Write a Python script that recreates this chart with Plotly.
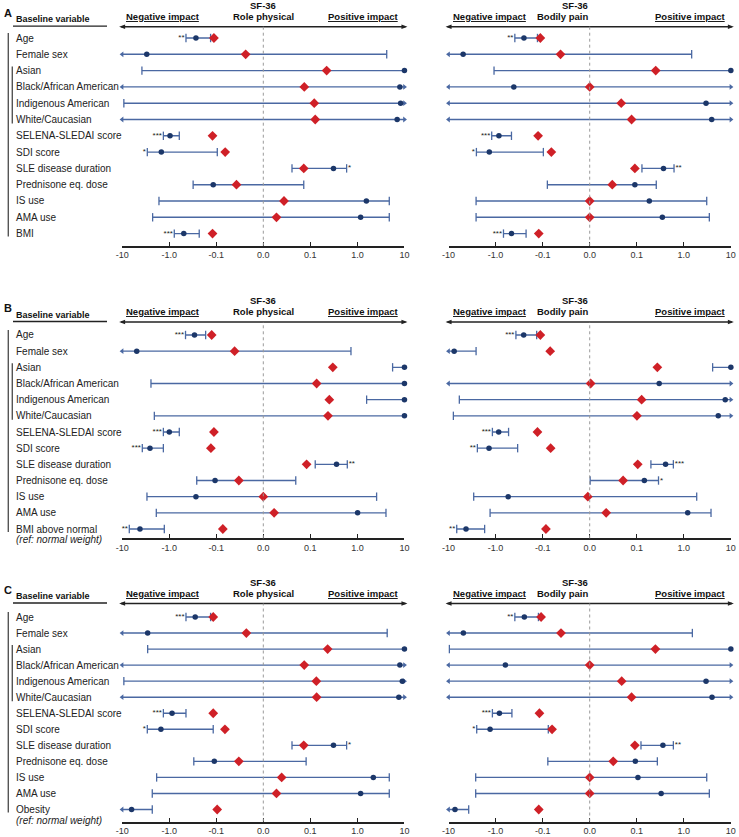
import math
import plotly.graph_objects as go

W, H = 739, 837

labels = ["Age", "Female sex", "Asian", "Black/African American", "Indigenous American",
          "White/Caucasian", "SELENA-SLEDAI score", "SDI score", "SLE disease duration",
          "Prednisone eq. dose", "IS use", "AMA use"]
last_label = ["BMI", "BMI above normal", "Obesity"]
ref_note = "(ref: normal weight)"
outcomes = ["Role physical", "Bodily pain"]
tick_vals = [-3, -2, -1, 0, 1, 2, 3]
tick_text = ["-10", "-1.0", "-0.1", "0.0", "0.1", "1.0", "10"]

# 99 / -99 = interval runs off the axis (drawn as an arrow)
a_rp_est = [-0.27, -3.0, 10, 8.0, 8.3, 7.0, -0.96, -1.47, 0.31, -0.116, 1.55, 1.17, -0.49]
a_rp_lo = [-0.44, -99, -3.8, -99, -9.2, -99, -1.33, -2.92, 0.061, -0.31, -1.65, -2.25, -0.78]
a_rp_hi = [-0.132, 4.2, 99, 99, 99, 99, -0.61, -0.0978, 0.59, 0.086, 4.76, 4.76, -0.23]
a_rp_ref = [-0.112, -0.0375, 0.222, 0.0871, 0.121, 0.127, -0.12, -0.081, 0.086, -0.057, 0.044, 0.028, -0.12]
a_rp_sig = ["**", "", "", "", "", "", "***", "*", "*", "", "", "", "***"]

a_bp_est = [-0.25, -4.9, 10, -0.41, 2.97, 3.92, -0.85, -1.36, 0.37, 0.096, 0.185, 0.35, -0.46]
a_bp_lo = [-0.39, -99, -1.08, -99, -99, -99, -1.21, -2.56, 0.129, -0.09, -2.6, -2.6, -0.68]
a_bp_hi = [-0.129, 1.47, 99, 99, 99, 99, -0.46, -0.0985, 0.62, 0.26, 3.07, 3.49, -0.225]
a_bp_ref = [-0.112, -0.062, 0.253, 0.0, 0.067, 0.089, -0.125, -0.0815, 0.096, 0.048, 0.0, 0.0, -0.121]
a_bp_sig = ["**", "", "", "", "", "", "***", "*", "**", "", "", "", "***"]

b_rp_est = [-0.29, -4.9, 10, 10, 10, 10, -0.995, -2.56, 0.36, -0.106, -0.27, 1.01, -4.18]
b_rp_lo = [-0.45, -99, 5.6, -2.44, 1.57, -2.07, -1.33, -3.73, 0.127, -0.26, -2.97, -1.88, -7.05]
b_rp_hi = [-0.168, 0.73, 99, 99, 99, 99, -0.61, -1.33, 0.61, 0.069, 2.56, 4.05, -1.27]
b_rp_ref = [-0.125, -0.061, 0.30, 0.136, 0.253, 0.237, -0.112, -0.13, 0.092, -0.052, 0.0, 0.023, -0.086]
b_rp_sig = ["***", "", "**", "", "*", "", "***", "***", "**", "", "", "", "**"]

b_bp_est = [-0.253, -7.6, 10, 0.30, 7.6, 5.4, -0.86, -1.38, 0.41, 0.145, -0.54, 1.21, -4.25]
b_bp_lo = [-0.37, -99, 4.1, -99, -5.9, -7.9, -1.17, -2.44, 0.20, 0.001, -2.92, -1.31, -6.7]
b_bp_hi = [-0.134, -2.6, 99, 99, 99, 99, -0.53, -0.34, 0.60, 0.29, 1.88, 3.79, -1.71]
b_bp_ref = [-0.112, -0.084, 0.274, 0.002, 0.127, 0.101, -0.129, -0.083, 0.105, 0.071, -0.004, 0.035, -0.093]
b_bp_sig = ["***", "**", "*", "", "", "", "***", "**", "***", "*", "", "", "**"]

c_rp_est = [-0.28, -2.87, 10, 8.0, 9.0, 7.6, -0.87, -1.5, 0.31, -0.11, 2.18, 1.17, -6.3]
c_rp_lo = [-0.44, -99, -2.87, -99, -9.2, -99, -1.33, -2.92, 0.061, -0.30, -1.85, -2.29, -99]
c_rp_hi = [-0.132, 4.3, 99, 99, 99, 99, -0.44, -0.116, 0.59, 0.091, 4.76, 4.76, -2.29]
c_rp_ref = [-0.116, -0.036, 0.233, 0.087, 0.134, 0.136, -0.116, -0.0815, 0.086, -0.052, 0.039, 0.028, -0.098]
c_rp_sig = ["***", "", "", "", "", "", "***", "*", "*", "", "", "", "***"]

c_bp_est = [-0.245, -4.84, 10, -0.62, 2.97, 3.98, -0.83, -1.31, 0.36, 0.097, 0.106, 0.33, -7.3]
c_bp_lo = [-0.39, -99, -9.6, -99, -99, -99, -1.17, -2.52, 0.123, -0.089, -2.65, -2.65, -99]
c_bp_hi = [-0.123, 1.52, 99, 99, 99, 99, -0.45, -0.088, 0.60, 0.274, 3.07, 3.49, -3.73]
c_bp_ref = [-0.108, -0.061, 0.249, 0.0, 0.068, 0.089, -0.117, -0.080, 0.096, 0.050, 0.0, 0.0, -0.121]
c_bp_sig = ["**", "", "", "", "", "", "***", "*", "**", "", "", "", "***"]

panels = [
    ("A", [(a_rp_est, a_rp_lo, a_rp_hi, a_rp_ref, a_rp_sig), (a_bp_est, a_bp_lo, a_bp_hi, a_bp_ref, a_bp_sig)]),
    ("B", [(b_rp_est, b_rp_lo, b_rp_hi, b_rp_ref, b_rp_sig), (b_bp_est, b_bp_lo, b_bp_hi, b_bp_ref, b_bp_sig)]),
    ("C", [(c_rp_est, c_rp_lo, c_rp_hi, c_rp_ref, c_rp_sig), (c_bp_est, c_bp_lo, c_bp_hi, c_bp_ref, c_bp_sig)]),
]

# pixel geometry of each panel: header line, first row, last row, x axis line
geom = [(26.7, 38, 233.6, 245.7), (322, 335, 529, 538.3), (603.5, 617, 809.5, 821.5)]
zero_px = [263.3, 589.7]
unit_px = 47.05

FONT = "Arial, 'Liberation Sans', sans-serif"
BLUE = "#1c3769"
BAR = "#4a68a2"
RED = "#cf2027"


def tr(v):
    # symmetric log scale: linear inside +-0.1, one decade per unit outside
    v = max(min(v, 10), -10)
    a = abs(v)
    if a <= 0.1:
        return v * 10
    return math.copysign(math.log10(a) + 2, v)


def px(x):
    return x / W


def py(y):
    return 1 - y / H


fig = go.Figure()
annotations = []
shapes = []
layout = {}

for p, (letter, subs) in enumerate(panels):
    header, r0, r12, axis_y = geom[p]
    sp = (r12 - r0) / 12

    # left label column
    annotations.append(dict(x=px(2), y=py(header - 14), text="<b>%s</b>" % letter,
                            font=dict(size=11, color="#111"), xanchor="left"))
    annotations.append(dict(x=px(14), y=py(header - 7.5), text="<b>Baseline variable</b>",
                            font=dict(size=9, color="#111"), xanchor="left"))
    shapes.append(dict(type="line", xref="paper", yref="paper", x0=px(13), x1=px(107),
                       y0=py(header - 0.5), y1=py(header - 0.5), line=dict(color="#222", width=1.3)))
    names = labels + [last_label[p]]
    for i, name in enumerate(names):
        annotations.append(dict(x=px(14), y=py(r0 + i * sp), text=name, xanchor="left",
                                font=dict(size=10, color="#222")))
    if p > 0:
        annotations.append(dict(x=px(14), y=py(r12 + 10.5), text="<i>%s</i>" % ref_note,
                                xanchor="left", font=dict(size=10, color="#222")))
    shapes.append(dict(type="line", xref="paper", yref="paper", x0=px(8.3), x1=px(8.3),
                       y0=py(r0 - 5), y1=py(r12 + 3), line=dict(color="#555", width=1.4)))
    shapes.append(dict(type="line", xref="paper", yref="paper", x0=px(12.3), x1=px(12.3),
                       y0=py(r0 + 2 * sp - 4), y1=py(r0 + 5 * sp + 4), line=dict(color="#555", width=1.4)))

    for c, (est, lo, hi, ref, sig) in enumerate(subs):
        k = p * 2 + c + 1
        xa = "x%d" % k if k > 1 else "x"
        ya = "y%d" % k if k > 1 else "y"
        zc = zero_px[c]
        L, R = zc - 3 * unit_px, zc + 3 * unit_px
        layout["xaxis%d" % k] = dict(
            domain=[px(L), px(R)], anchor=ya, range=[-3, 3], tickvals=tick_vals, ticktext=tick_text,
            showline=True, linecolor="#222", linewidth=1.8, ticks="inside", ticklen=4,
            tickwidth=1.3, tickcolor="#222", tickfont=dict(size=9, color="#333", family=FONT),
            showgrid=False, zeroline=False, fixedrange=True)
        layout["yaxis%d" % k] = dict(
            domain=[py(axis_y), py(header)], anchor=xa,
            range=[12 + (axis_y - r12) / sp, -(r0 - header) / sp], visible=False, fixedrange=True)

        # header
        annotations.append(dict(x=px(zc), y=py(header - 21.5), text="<b>SF-36</b>",
                                font=dict(size=9.5, color="#111")))
        annotations.append(dict(x=px(zc), y=py(header - 10.5), text="<b>%s</b>" % outcomes[c],
                                font=dict(size=9.5, color="#111")))
        annotations.append(dict(x=px(L + 2), y=py(header - 10.5), text="<b><u>Negative impact</u></b>",
                                xanchor="left", font=dict(size=9.5, color="#111")))
        annotations.append(dict(x=px(R - 3), y=py(header - 10.5), text="<b><u>Positive impact</u></b>",
                                xanchor="right", font=dict(size=9.5, color="#111")))
        shapes.append(dict(type="line", xref="paper", yref="paper", x0=px(L - 1), x1=px(R + 1),
                           y0=py(header), y1=py(header), line=dict(color="#222", width=1.6)))
        for xe, d in ((L - 3, 1), (R + 3, -1)):
            shapes.append(dict(type="path", xref="paper", yref="paper", fillcolor="#222",
                               line=dict(width=0),
                               path="M %f %f L %f %f L %f %f Z" % (
                                   px(xe), py(header), px(xe + d * 6), py(header - 2.2),
                                   px(xe + d * 6), py(header + 2.2))))
        shapes.append(dict(type="line", xref=xa, yref=ya + " domain", x0=0, x1=0, y0=0, y1=1,
                           line=dict(color="#9a9a9a", width=1, dash="dot")))

        # intervals
        lx, ly, cx, cy, al_x, al_y, ar_x, ar_y = [], [], [], [], [], [], [], []
        for i in range(13):
            a, b = tr(lo[i]), tr(hi[i])
            lx += [a, b, None]
            ly += [i, i, None]
            if lo[i] < -10:
                al_x.append(-3); al_y.append(i)
            else:
                cx.append(a); cy.append(i)
            if hi[i] > 10:
                if est[i] < 10:
                    ar_x.append(3); ar_y.append(i)
            else:
                cx.append(b); cy.append(i)
        fig.add_trace(go.Scatter(x=lx, y=ly, mode="lines", line=dict(color=BAR, width=1.4),
                                 xaxis=xa, yaxis=ya, hoverinfo="skip", showlegend=False))
        fig.add_trace(go.Scatter(x=cx, y=cy, mode="markers", xaxis=xa, yaxis=ya, cliponaxis=False,
                                 marker=dict(symbol="line-ns", size=6, line=dict(color=BAR, width=1.3)),
                                 hoverinfo="skip", showlegend=False))
        fig.add_trace(go.Scatter(x=al_x, y=al_y, mode="markers", xaxis=xa, yaxis=ya, cliponaxis=False,
                                 marker=dict(symbol="triangle-left", size=5, color=BAR),
                                 hoverinfo="skip", showlegend=False))
        fig.add_trace(go.Scatter(x=ar_x, y=ar_y, mode="markers", xaxis=xa, yaxis=ya, cliponaxis=False,
                                 marker=dict(symbol="triangle-right", size=5, color=BAR),
                                 hoverinfo="skip", showlegend=False))
        fig.add_trace(go.Scatter(x=[tr(v) for v in est], y=list(range(13)), mode="markers",
                                 xaxis=xa, yaxis=ya, cliponaxis=False,
                                 marker=dict(symbol="circle", size=5.5, color=BLUE),
                                 showlegend=False))
        fig.add_trace(go.Scatter(x=[tr(v) for v in ref], y=list(range(13)), mode="markers",
                                 xaxis=xa, yaxis=ya, cliponaxis=False,
                                 marker=dict(symbol="diamond", size=7.5, color=RED),
                                 showlegend=False))

        # significance stars beside the outer end of the interval
        lxs, lys, lts, rxs, rys, rts = [], [], [], [], [], []
        for i in range(13):
            if not sig[i]:
                continue
            if est[i] < 0:
                lxs.append(tr(lo[i]) - 0.03); lys.append(i); lts.append(sig[i])
            else:
                end = tr(hi[i]) if hi[i] <= 10 else 3
                rxs.append(end + 0.03); rys.append(i); rts.append(sig[i])
        for xs, ys, ts, pos in ((lxs, lys, lts, "middle left"), (rxs, rys, rts, "middle right")):
            fig.add_trace(go.Scatter(x=xs, y=ys, text=ts, mode="text", textposition=pos,
                                     xaxis=xa, yaxis=ya, cliponaxis=False,
                                     textfont=dict(size=8, color="#222", family=FONT),
                                     hoverinfo="skip", showlegend=False))

for a in annotations:
    a.setdefault("xref", "paper")
    a.setdefault("yref", "paper")
    a.setdefault("showarrow", False)
    a.setdefault("yanchor", "middle")

fig.update_layout(
    width=W, height=H,
    margin=dict(l=0, r=0, t=0, b=0, pad=0, autoexpand=False),
    paper_bgcolor="white", plot_bgcolor="white",
    font=dict(family=FONT, color="#222"),
    annotations=annotations, shapes=shapes,
    **layout,
)

# the page's default body margin would shift the 739x837 figure off the window
fig.write_html("out.html", config={"displayModeBar": False},
               post_script="document.body.style.margin='0';document.body.style.overflow='hidden';")
